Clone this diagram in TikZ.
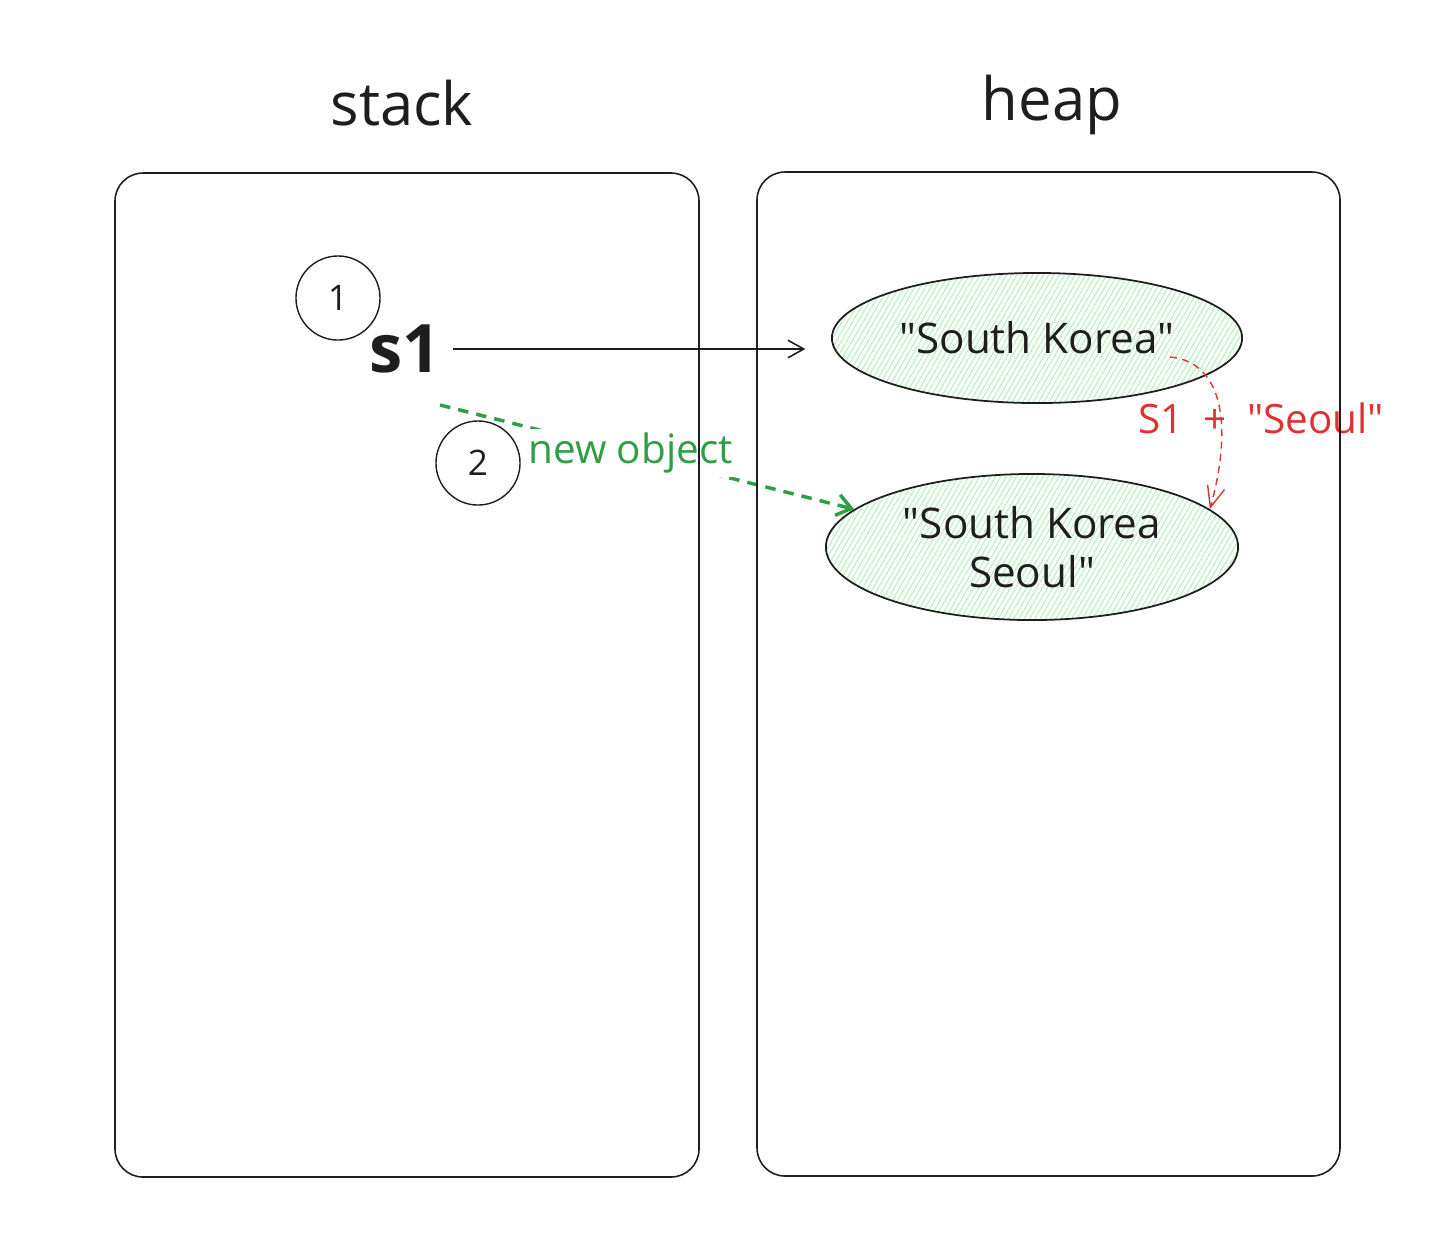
\documentclass[tikz,border=0pt]{standalone}
\usepackage{fontspec}
\setmainfont{Open Sans}
\usepackage{xcolor}
\usetikzlibrary{arrows.meta, positioning, calc, shapes.geometric, patterns.meta}

\definecolor{ink}{HTML}{1E1E1E}
\definecolor{newgreen}{HTML}{2F9E44}
\definecolor{hatchgreen}{HTML}{B2F2BB}
\definecolor{opred}{HTML}{E03131}

\tikzset{
    panel/.style={draw=ink, line width=0.45pt, rounded corners=0.28cm},
    title/.style={text=ink, font=\fontsize{17}{20}\selectfont},
    slot/.style={circle, draw=ink, line width=0.4pt, minimum size=0.84cm, inner sep=0pt, text=ink, font=\fontsize{10}{12}\selectfont},
    strobj/.style={ellipse, draw=ink, line width=0.5pt, inner sep=0pt, align=center,
        pattern={Lines[angle=60, distance=1.3pt, line width=0.3pt]}, pattern color=hatchgreen,
        text=ink, font=\fontsize{12}{14}\selectfont},
    ptr/.style={draw=ink, line width=0.45pt, -{Straight Barb[length=4.5pt, width=5pt]}},
    newref/.style={draw=newgreen, line width=1pt, dash pattern=on 3pt off 2.3pt, -{Straight Barb[length=4pt, width=6pt]}},
    concat/.style={draw=opred, line width=0.4pt, dash pattern=on 2pt off 1.5pt, -{Straight Barb[length=6pt, width=5pt]}},
}

\begin{document}
\begin{tikzpicture}[x=0.01cm, y=-0.01cm]
    \useasboundingbox (0, 0) rectangle (1430, 1250);

    % 标题
    \node[title] (stacktitle) at (402, 103) {stack};
    \node[title] (heaptitle) at (1052, 105) {heap};

    % 栈
    \node[slot] (n1) at (338, 298) {1};
    \node[text=ink, font=\bfseries\fontsize{19}{22}\selectfont] (s1) at (405, 349) {s1};
    \node[slot] (n2) at (478, 463) {2};

    % 堆
    \node[strobj, minimum width=4.1cm, minimum height=1.3cm] (old) at (1037, 338) {\textquotedbl South Korea\textquotedbl};
    \node[strobj, minimum width=4.12cm, minimum height=1.46cm] (new) at (1032, 547) {\textquotedbl South Korea\\Seoul\textquotedbl};

    % 引用
    \draw[ptr, shorten >=0.26cm] (s1.east) -- (s1.east -| old.west);

    \coordinate (gstart) at (440, 405);
    \draw[newref] (gstart) -- node[pos=0.46, fill=white, inner sep=1pt, text=newgreen, font=\fontsize{11.5}{13}\selectfont] (newlbl) {new object} (new.168);

    % 拼接
    \coordinate (rstart) at (1170, 357);
    \draw[concat] (rstart) .. controls (1225, 362) and (1232, 430) .. (new.12);
    \node[text=opred, font=\fontsize{11.5}{13}\selectfont] (oplbl) at (1261, 418) {S1\enspace+\enspace\textquotedbl Seoul\textquotedbl};

    % 栈 / 堆 区域
    \draw[panel] (115, 173) rectangle (699, 1177);
    \draw[panel] (757, 172) rectangle (1340, 1176);
\end{tikzpicture}
\end{document}
